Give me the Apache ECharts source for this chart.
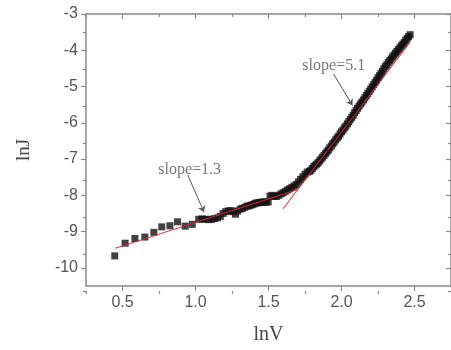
<!DOCTYPE html>
<html><head><meta charset="utf-8">
<script src="https://cdn.jsdelivr.net/npm/echarts@6/dist/echarts.min.js"></script>
<style>html,body{margin:0;padding:0;background:#fff}#c{width:451px;height:350px}</style>
</head><body><div id="c"></div>
<script>
// measured data (lnV, lnJ)
const lnV = [0.447,0.518,0.585,0.653,0.715,0.769,0.825,0.877,0.929,0.978,
1.022,1.045,1.068,1.090,1.111,1.131,1.151,1.170,1.189,1.207,1.224,1.241,1.258,1.274,1.290,1.306,1.322,1.337,1.352,1.366,1.381,1.395,1.408,1.422,1.435,1.448,1.461,1.474,1.486,1.498,
1.510,1.525,1.540,1.555,1.570,1.585,1.600,1.615,1.630,1.645,1.660,1.675,1.690,1.705,1.720,1.735,1.750,1.765,1.780,1.790,
1.800,1.810,1.820,1.830,1.840,1.850,1.860,1.870,1.880,1.890,1.900,1.910,1.920,1.930,1.940,1.950,1.960,1.970,1.980,1.990,
2.000,2.010,2.020,2.030,2.040,2.050,2.060,2.070,2.080,2.090,2.100,2.110,2.120,2.130,2.140,2.150,2.160,2.170,2.180,2.190,
2.200,2.210,2.220,2.230,2.240,2.250,2.260,2.270,2.280,2.290,2.300,2.310,2.320,2.330,2.340,2.350,2.360,2.370,2.380,2.390,
2.400,2.410,2.420,2.430,2.440,2.450,2.460,2.470];
const lnJ = [-9.67,-9.32,-9.19,-9.15,-9.02,-8.87,-8.84,-8.73,-8.85,-8.80,
-8.66,-8.65,-8.66,-8.67,-8.66,-8.64,-8.62,-8.58,-8.50,-8.45,-8.43,-8.42,-8.45,-8.52,-8.43,-8.38,-8.36,-8.33,-8.30,-8.29,-8.27,-8.25,-8.22,-8.21,-8.20,-8.19,-8.19,-8.18,-8.19,-8.18,
-8.02,-8.00,-8.03,-8.03,-8.00,-7.96,-7.93,-7.89,-7.85,-7.82,-7.78,-7.74,-7.70,-7.63,-7.56,-7.49,-7.42,-7.36,-7.34,-7.31,
-7.26,-7.21,-7.17,-7.14,-7.10,-7.05,-7.00,-6.95,-6.90,-6.85,-6.80,-6.75,-6.69,-6.64,-6.58,-6.53,-6.47,-6.42,-6.37,-6.31,
-6.25,-6.20,-6.14,-6.09,-6.03,-5.97,-5.91,-5.85,-5.79,-5.72,-5.66,-5.60,-5.54,-5.48,-5.43,-5.37,-5.31,-5.25,-5.19,-5.13,
-5.07,-5.01,-4.95,-4.89,-4.83,-4.76,-4.70,-4.64,-4.58,-4.51,-4.45,-4.40,-4.34,-4.29,-4.24,-4.18,-4.13,-4.08,-4.03,-3.98,
-3.93,-3.88,-3.83,-3.78,-3.72,-3.67,-3.62,-3.57];

// linear fits
const fit1X = [0.45, 1.70];
const fit1Y = [-9.46, -7.84];
const fit2X = [1.60, 2.47];
const fit2Y = [-8.37, -3.78];

// annotations
const noteTexts = ['slope=1.3', 'slope=5.1'];
const noteAt = [[0.96, -7.29], [1.947, -4.44]];
const arrowFrom = [[0.947, -7.44], [1.947, -4.66]];
const arrowTo = [[1.058, -8.46], [2.075, -5.52]];

// ticks
const xMajor = [0.5, 1.0, 1.5, 2.0, 2.5];
const xMinor = [0.25, 0.75, 1.25, 1.75, 2.25, 2.75];
const yMajor = [-10, -9, -8, -7, -6, -5, -4, -3];
const yMinor = [-10.5, -9.5, -8.5, -7.5, -6.5, -5.5, -4.5, -3.5];

const X_MIN = 0.25, X_MAX = 2.75, Y_MIN = -10.5, Y_MAX = -3;
const AX = '#8a8a8a';
const gridBox = {left: 86, top: 14, width: 375, height: 277};

function xAx(gi, pos, ticks, len, inside, showLine, labels, name) {
  return {
    type: 'value', gridIndex: gi, position: pos, min: X_MIN, max: X_MAX,
    axisLine: {show: showLine, onZero: false, lineStyle: {color: AX, width: 1.5}},
    axisTick: {show: true, inside: inside, length: len, customValues: ticks, lineStyle: {color: AX, width: 1.2}},
    axisLabel: labels ? {show: true, customValues: ticks, formatter: v => v.toFixed(1), color: '#555', fontSize: 16, fontFamily: 'Liberation Sans', margin: 9} : {show: false},
    splitLine: {show: false},
    name: name || '', nameLocation: 'middle', nameGap: 39,
    nameTextStyle: {fontFamily: 'Liberation Serif', fontSize: 20, color: '#444'}
  };
}
function yAx(gi, pos, ticks, len, inside, showLine, labels, name) {
  return {
    type: 'value', gridIndex: gi, position: pos, min: Y_MIN, max: Y_MAX,
    axisLine: {show: showLine, onZero: false, lineStyle: {color: AX, width: 1.5}},
    axisTick: {show: true, inside: inside, length: len, customValues: ticks, lineStyle: {color: AX, width: 1.2}},
    axisLabel: labels ? {show: true, customValues: ticks, formatter: v => String(v), color: '#555', fontSize: 16, fontFamily: 'Liberation Sans', margin: 8} : {show: false},
    splitLine: {show: false},
    name: name || '', nameLocation: 'middle', nameGap: 52, nameRotate: 90,
    nameTextStyle: {fontFamily: 'Liberation Serif', fontSize: 19, color: '#444'}
  };
}

const chart = echarts.init(document.getElementById('c'), null, {renderer: 'canvas'});
chart.setOption({
  animation: false,
  backgroundColor: '#fff',
  grid: [Object.assign({}, gridBox), Object.assign({}, gridBox)],
  xAxis: [
    xAx(0, 'bottom', xMajor, 5, false, true, true, 'lnV'),
    xAx(0, 'top', xMajor, 5, true, true, false),
    xAx(1, 'bottom', xMinor, 3, false, false, false),
    xAx(1, 'top', xMinor, 3, true, false, false)
  ],
  yAxis: [
    yAx(0, 'left', yMajor, 5, false, true, true, 'lnJ'),
    yAx(0, 'right', yMajor, 5, true, true, false),
    yAx(1, 'left', yMinor, 3, false, false, false),
    yAx(1, 'right', yMinor, 3, true, false, false)
  ],
  series: [
    {
      type: 'scatter', xAxisIndex: 0, yAxisIndex: 0,
      symbol: 'rect', symbolSize: 7,
      itemStyle: {color: '#111'},
      data: lnV.map((v, i) => [v, lnJ[i]]), z: 2
    },
    {
      type: 'line', xAxisIndex: 0, yAxisIndex: 0, showSymbol: false, symbol: 'none',
      lineStyle: {color: '#e3222c', width: 1.1, opacity: 0.9},
      data: fit1X.map((v, i) => [v, fit1Y[i]]), z: 3
    },
    {
      type: 'line', xAxisIndex: 0, yAxisIndex: 0, showSymbol: false, symbol: 'none',
      lineStyle: {color: '#e3222c', width: 1.1, opacity: 0.9},
      data: fit2X.map((v, i) => [v, fit2Y[i]]), z: 3
    },
    {
      type: 'lines', coordinateSystem: 'cartesian2d', xAxisIndex: 0, yAxisIndex: 0,
      symbol: ['none', 'arrow'], symbolSize: 6,
      lineStyle: {color: '#555', width: 1, opacity: 1},
      data: arrowFrom.map((f, i) => ({coords: [f, arrowTo[i]]})), z: 4
    },
    {
      type: 'scatter', xAxisIndex: 0, yAxisIndex: 0, symbolSize: 0, silent: true,
      label: {show: true, position: 'inside', formatter: p => noteTexts[p.dataIndex],
        fontFamily: 'Liberation Serif', fontSize: 16, color: '#555'},
      data: noteAt, z: 5
    }
  ]
});
</script>
</body></html>
